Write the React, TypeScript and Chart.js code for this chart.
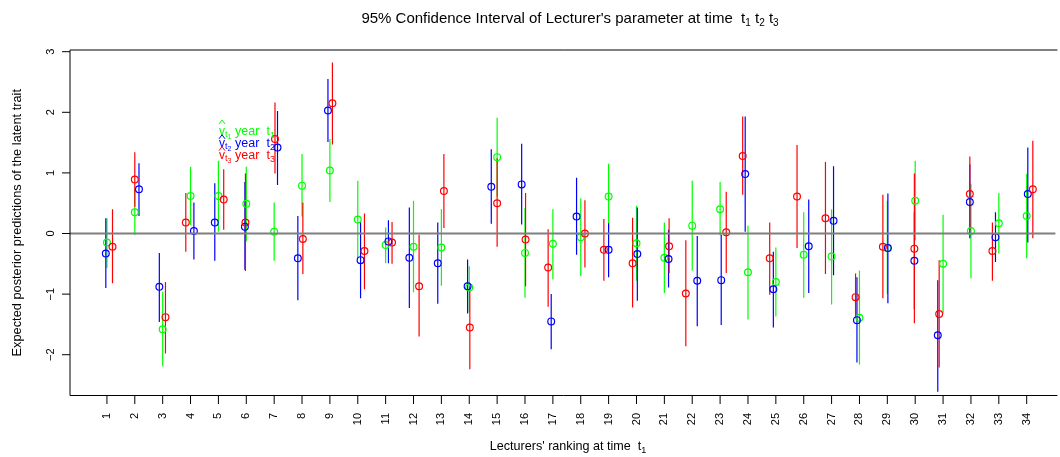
import React, { useEffect, useRef } from "react";
import { Chart, registerables } from "chart.js";

Chart.register(...registerables);

// ---------- data ----------
const lecturers = [1, 2, 3, 4, 5, 6, 7, 8, 9, 10, 11, 12, 13, 14, 15, 16, 17, 18, 19, 20, 21, 22, 23, 24, 25, 26, 27, 28, 29, 30, 31, 32, 33, 34];

// year t1 (green) : estimate, lower, upper
const greenMid = [-0.15, 0.35, -1.58, 0.62, 0.62, 0.49, 0.03, 0.79, 1.04, 0.23, -0.19, -0.22, -0.23, -0.89, 1.26, -0.32, -0.17, -0.06, 0.61, -0.16, -0.40, 0.13, 0.40, -0.64, -0.80, -0.35, -0.38, -1.39, -0.24, 0.54, -0.50, 0.04, 0.17, 0.29];
const greenLo = [-0.57, -0.02, -2.19, 0.14, 0.03, -0.13, -0.45, 0.28, 0.52, -0.41, -0.49, -0.97, -0.86, -1.30, 0.61, -1.06, -0.76, -0.70, 0.08, -0.78, -0.98, -0.61, -0.03, -1.42, -1.37, -1.06, -1.17, -2.16, -1.00, -0.11, -1.32, -0.74, -0.33, -0.41];
const greenHi = [0.25, 0.72, -0.96, 1.10, 1.20, 1.10, 0.51, 1.31, 1.56, 0.87, 0.10, 0.54, 0.40, -0.54, 1.91, 0.42, 0.40, 0.58, 1.15, 0.46, 0.18, 0.87, 0.85, 0.13, -0.23, 0.35, 0.40, -0.61, 0.54, 1.20, 0.31, 0.82, 0.67, 0.98];

// year t2 (blue) : position, estimate, lower, upper
const blueX = [0.96, 2.15, 2.88, 4.12, 4.87, 5.95, 7.12, 7.85, 8.93, 10.10, 11.10, 11.85, 12.87, 13.94, 14.79, 15.88, 16.94, 17.85, 19.00, 20.03, 21.15, 22.18, 23.04, 23.90, 24.91, 26.18, 27.07, 27.91, 29.02, 29.97, 30.81, 31.96, 32.88, 34.04];
const blueMid = [-0.33, 0.73, -0.88, 0.04, 0.18, 0.11, 1.42, -0.41, 2.03, -0.44, -0.13, -0.40, -0.49, -0.87, 0.77, 0.81, -1.45, 0.28, -0.27, -0.34, -0.42, -0.78, -0.77, 0.98, -0.92, -0.21, 0.21, -1.43, -0.24, -0.45, -1.68, 0.52, -0.06, 0.65];
const blueLo = [-0.90, 0.29, -1.46, -0.43, -0.45, -0.60, 0.80, -1.10, 1.51, -1.07, -0.49, -1.23, -1.16, -1.32, 0.16, 0.15, -1.91, -0.35, -0.72, -1.11, -0.89, -1.53, -1.51, 0.03, -1.55, -0.98, -0.69, -2.13, -1.15, -1.25, -2.61, -0.08, -0.47, -0.15];
const blueHi = [0.25, 1.16, -0.32, 0.51, 0.83, 0.85, 2.02, 0.29, 2.55, 0.19, 0.22, 0.43, 0.18, -0.43, 1.39, 1.48, -1.00, 0.92, 0.17, 0.43, 0.06, -0.04, -0.02, 1.93, -0.30, 0.56, 1.11, -0.72, 0.66, 0.35, -0.77, 1.14, 0.35, 1.42];

// year t3 (red) : position, estimate, lower, upper
const redX = [1.20, 2.00, 3.10, 3.83, 5.19, 5.97, 7.03, 8.03, 9.09, 10.24, 11.23, 12.20, 13.09, 14.02, 15.00, 16.02, 16.83, 18.15, 18.83, 19.86, 21.17, 21.77, 23.22, 23.81, 24.78, 25.76, 26.78, 27.86, 28.84, 29.97, 30.86, 31.96, 32.77, 34.22];
const redMid = [-0.22, 0.89, -1.38, 0.18, 0.56, 0.18, 1.56, -0.09, 2.15, -0.29, -0.15, -0.87, 0.70, -1.55, 0.50, -0.10, -0.56, 0.00, -0.27, -0.49, -0.21, -0.99, 0.02, 1.28, -0.41, 0.61, 0.25, -1.05, -0.22, -0.25, -1.33, 0.65, -0.29, 0.73];
const redLo = [-0.82, 0.44, -1.98, -0.30, 0.06, -0.62, 0.99, -0.67, 1.47, -0.92, -0.50, -1.70, 0.09, -2.24, -0.22, -0.87, -1.21, -0.56, -0.78, -1.22, -0.65, -1.86, -0.65, 0.64, -1.01, -0.24, -0.67, -1.40, -1.07, -1.48, -2.21, 0.05, -0.78, -0.08];
const redHi = [0.40, 1.34, -0.80, 0.67, 1.06, 0.99, 2.16, 0.51, 2.82, 0.33, 0.19, -0.02, 1.31, -0.87, 1.24, 0.67, 0.07, 0.55, 0.24, 0.26, 0.25, -0.11, 0.69, 1.93, 0.18, 1.46, 1.18, -0.66, 0.64, 0.99, -0.44, 1.27, 0.18, 1.53];

const yTickValues = [-2, -1, 0, 1, 2, 3];
const yTickLabels = ["\u22122", "\u22121", "0", "1", "2", "3"];
const xTickLabels = lecturers.map((v) => String(v));

const titleText = "95% Confidence Interval of Lecturer's parameter at time  t";
const xTitleText = "Lecturers' ranking at time  t";
const yTitleText = "Expected posterior predictions of the latent trait";
const legendSubs = ["1", "2", "3"];

// ---------- styling ----------
const FONT = '"Liberation Sans", Arial, Helvetica, sans-serif';
const GREEN = "#00FF00";
const BLUE = "#0000FF";
const RED = "#FF0000";
const X_MIN = -0.325;
const X_MAX = 35.03;
const Y_MIN = -2.673;
const Y_MAX = 3.028;

function intervalData(xs: number[], lo: number[], hi: number[]) {
  const out: any[] = [];
  xs.forEach((x, i) => {
    out.push({ x, y: lo[i] }, { x, y: hi[i] }, { x, y: null });
  });
  return out;
}

function pointData(xs: number[], ys: number[]) {
  return xs.map((x, i) => ({ x, y: ys[i] }));
}

type Part = { t: string; size: number; dy?: number };

function partsWidth(ctx: CanvasRenderingContext2D, parts: Part[]) {
  let w = 0;
  for (const p of parts) {
    ctx.font = `${p.size}px ${FONT}`;
    w += ctx.measureText(p.t).width;
  }
  return w;
}

function drawParts(ctx: CanvasRenderingContext2D, parts: Part[], x: number, y: number) {
  let cx = x;
  ctx.textAlign = "left";
  ctx.textBaseline = "alphabetic";
  for (const p of parts) {
    ctx.font = `${p.size}px ${FONT}`;
    ctx.fillText(p.t, cx, y + (p.dy || 0));
    cx += ctx.measureText(p.t).width;
  }
  return cx;
}

const rPlotPlugin = {
  id: "rPlot",
  afterDatasetsDraw(chart: any) {
    const { ctx, chartArea } = chart;
    const xs = chart.scales.x;
    const ys = chart.scales.y;
    ctx.save();

    // zero reference line
    const y0 = ys.getPixelForValue(0);
    ctx.strokeStyle = "#7F7F7F";
    ctx.lineWidth = 2;
    ctx.beginPath();
    ctx.moveTo(chartArea.left, y0);
    ctx.lineTo(chartArea.right, y0);
    ctx.stroke();

    // box (right side lies outside the picture)
    ctx.strokeStyle = "#000";
    ctx.lineWidth = 1;
    ctx.beginPath();
    ctx.moveTo(chartArea.right + 2, chartArea.top);
    ctx.lineTo(chartArea.left, chartArea.top);
    ctx.lineTo(chartArea.left, chartArea.bottom);
    ctx.lineTo(chartArea.right + 2, chartArea.bottom);
    ctx.stroke();

    // x ticks and labels
    ctx.fillStyle = "#000";
    lecturers.forEach((v, i) => {
      const px = xs.getPixelForValue(v);
      ctx.beginPath();
      ctx.moveTo(px, chartArea.bottom);
      ctx.lineTo(px, chartArea.bottom + 8.5);
      ctx.stroke();
      ctx.save();
      ctx.translate(px, chartArea.bottom + 17.5);
      ctx.rotate(-Math.PI / 2);
      ctx.font = `11px ${FONT}`;
      ctx.textAlign = "right";
      ctx.textBaseline = "middle";
      ctx.fillText(xTickLabels[i], 0, 0);
      ctx.restore();
    });

    // y ticks and labels
    yTickValues.forEach((v, i) => {
      const py = ys.getPixelForValue(v);
      ctx.beginPath();
      ctx.moveTo(chartArea.left, py);
      ctx.lineTo(chartArea.left - 8, py);
      ctx.stroke();
      ctx.save();
      ctx.translate(chartArea.left - 16.5, py);
      ctx.rotate(-Math.PI / 2);
      ctx.font = `11px ${FONT}`;
      ctx.textAlign = "center";
      ctx.textBaseline = "alphabetic";
      ctx.fillText(yTickLabels[i], 0, 0);
      ctx.restore();
    });

    // title
    const titleParts: Part[] = [
      { t: titleText, size: 15 },
      { t: "1", size: 10, dy: 3 },
      { t: " t", size: 15 },
      { t: "2", size: 10, dy: 3 },
      { t: " t", size: 15 },
      { t: "3", size: 10, dy: 3 },
    ];
    const tw = partsWidth(ctx, titleParts);
    drawParts(ctx, titleParts, 570 - tw / 2, 23);

    // x axis title
    const xtParts: Part[] = [
      { t: xTitleText, size: 12.6 },
      { t: "1", size: 9, dy: 3 },
    ];
    const xw = partsWidth(ctx, xtParts);
    drawParts(ctx, xtParts, 568 - xw / 2, 450);

    // y axis title
    ctx.save();
    ctx.translate(21, (chartArea.top + chartArea.bottom) / 2);
    ctx.rotate(-Math.PI / 2);
    ctx.font = `12.8px ${FONT}`;
    ctx.textAlign = "center";
    ctx.textBaseline = "alphabetic";
    ctx.fillText(yTitleText, 0, 0);
    ctx.restore();

    // legend
    const colors = [GREEN, BLUE, RED];
    const baselines = [135, 146.8, 158.6];
    colors.forEach((c, i) => {
      const by = baselines[i];
      const lx = 219;
      ctx.fillStyle = c;
      ctx.strokeStyle = c;
      ctx.font = `12px ${FONT}`;
      ctx.textAlign = "left";
      ctx.textBaseline = "alphabetic";
      ctx.fillText("v", lx, by);
      const vw = ctx.measureText("v").width;
      // hat
      const hx = lx + vw / 2;
      const hy = i === 0 ? by - 11 : by - 8;
      ctx.lineWidth = 1;
      ctx.beginPath();
      ctx.moveTo(hx - 3, hy);
      ctx.lineTo(hx, hy - 4);
      ctx.lineTo(hx + 3, hy);
      ctx.stroke();
      let cx = lx + vw;
      cx = drawParts(ctx, [
        { t: "t", size: 9, dy: 2 },
        { t: legendSubs[i], size: 7, dy: 4 },
      ], cx, by);
      drawParts(ctx, [{ t: "year", size: 12.5 }], 235, by);
      drawParts(ctx, [
        { t: "t", size: 12.5 },
        { t: legendSubs[i], size: 9, dy: 3 },
      ], 266.5, by);
    });

    ctx.restore();
  },
};

export default function App() {
  const ref = useRef<HTMLCanvasElement>(null);
  useEffect(() => {
    const canvas = ref.current;
    if (!canvas) return;
    const lineDs = (label: string, data: any[], color: string, order: number) => ({
      label,
      data,
      showLine: true,
      spanGaps: false,
      borderColor: color,
      borderWidth: 1.2,
      pointRadius: 0,
      pointHoverRadius: 0,
      fill: false,
      order,
    });
    const ptDs = (label: string, data: any[], color: string, order: number) => ({
      label,
      data,
      showLine: false,
      borderColor: color,
      backgroundColor: "rgba(0,0,0,0)",
      pointBorderColor: color,
      pointBackgroundColor: "rgba(0,0,0,0)",
      pointBorderWidth: 1.2,
      pointRadius: 3.4,
      pointHoverRadius: 3.4,
      order,
    });
    const chart = new Chart(canvas, {
      type: "scatter",
      data: {
        datasets: [
          lineDs("t1 interval", intervalData(lecturers, greenLo, greenHi), GREEN, 6),
          lineDs("t2 interval", intervalData(blueX, blueLo, blueHi), BLUE, 5),
          lineDs("t3 interval", intervalData(redX, redLo, redHi), RED, 4),
          ptDs("t1", pointData(lecturers, greenMid), GREEN, 3),
          ptDs("t2", pointData(blueX, blueMid), BLUE, 2),
          ptDs("t3", pointData(redX, redMid), RED, 1),
        ] as any,
      },
      options: {
        responsive: false,
        animation: false,
        devicePixelRatio: 1,
        events: [],
        layout: { padding: { left: 70, top: 50, right: 0, bottom: 61.5 } },
        scales: {
          x: { type: "linear", display: false, min: X_MIN, max: X_MAX },
          y: { type: "linear", display: false, min: Y_MIN, max: Y_MAX },
        },
        plugins: {
          legend: { display: false },
          tooltip: { enabled: false },
          title: { display: false },
        },
      } as any,
      plugins: [rPlotPlugin],
    });
    return () => chart.destroy();
  }, []);
  return (
    <div style={{ position: "absolute", left: 0, top: 0, width: 1060, height: 457, background: "#fff", overflow: "hidden" }}>
      <canvas ref={ref} width={1060} height={457} style={{ display: "block", width: 1060, height: 457 }} />
    </div>
  );
}
